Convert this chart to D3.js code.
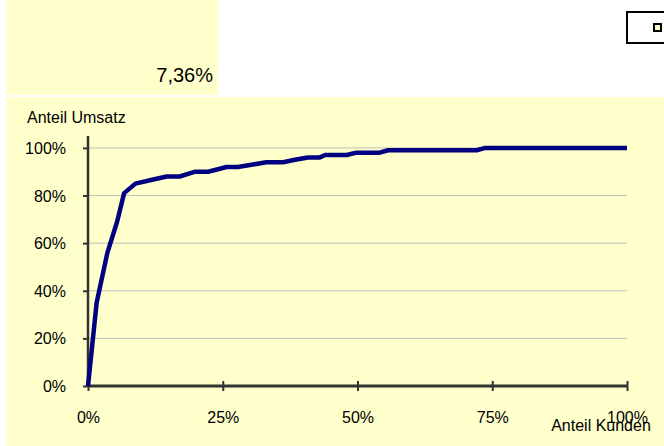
<!DOCTYPE html>
<html>
<head>
<meta charset="utf-8">
<script src="https://cdn.jsdelivr.net/npm/d3@7"></script>
<style>
  body { margin: 0; background: #fff; }
  svg text { font-family: "Liberation Sans", Arial, sans-serif; fill: #000; }
</style>
</head>
<body>
<svg id="chart"></svg>
<script>
const width = 664, height = 446;

// Lorenz-Kurve: Anteil Kunden (x) gegen Anteil Umsatz (y), in Prozent
const kundenAnteil = [0, 1.6, 3.6, 5.4, 6.7, 8.8, 11.7, 14.6, 17.0, 19.9, 22.3, 25.7, 27.8, 30.6, 33.1, 36.2, 38.4, 40.8, 43.0, 44.0, 48.0, 49.8, 54.1, 55.7, 72.1, 73.7, 100];
const umsatzAnteil = [0, 35, 56, 69, 81, 85, 86.5, 88, 88, 90, 90, 92, 92, 93, 94, 94, 95, 96, 96, 97, 97, 98, 98, 99, 99, 100, 100];

const xTicks = [0, 25, 50, 75, 100];
const yTicks = [0, 20, 40, 60, 80, 100];
const kennzahl = "7,36%";
const yTitle = "Anteil Umsatz", xTitle = "Anteil Kunden";

const colors = { panel: '#ffffcc', line: '#000080', axis: '#333333', grid: '#c0c0c0' };

const svg = d3.select("#chart").attr("width", width).attr("height", height);

// background panels
svg.append("rect").attr("x", 7).attr("y", 0).attr("width", 211).attr("height", 95).attr("fill", colors.panel);
svg.append("rect").attr("x", 7).attr("y", 97).attr("width", width - 7).attr("height", height - 97).attr("fill", colors.panel);

svg.append("text").attr("x", 213).attr("y", 82).attr("text-anchor", "end")
  .style("font-size", "20px").text(kennzahl);

// little box top right
svg.append("rect").attr("x", 627).attr("y", 12).attr("width", 50).attr("height", 31)
  .attr("fill", "#fff").attr("stroke", "#000").attr("stroke-width", 2);
svg.append("rect").attr("x", 654).attr("y", 24).attr("width", 7).attr("height", 7)
  .attr("fill", colors.panel).attr("stroke", "#000").attr("stroke-width", 2);

const x = d3.scaleLinear().domain([0, 100]).range([88, 627]);
const y = d3.scaleLinear().domain([0, 105]).range([386, 136]);

// gridlines
svg.append("g").selectAll("line").data(yTicks.filter(d => d > 0)).join("line")
  .attr("x1", x(0)).attr("x2", x(100))
  .attr("y1", d => y(d)).attr("y2", d => y(d))
  .attr("stroke", colors.grid).attr("stroke-width", 1);

// y axis
const yAxis = svg.append("g").attr("transform", `translate(${x(0)},0)`)
  .call(d3.axisLeft(y).tickValues(yTicks).tickFormat(d => d + "%").tickSize(5).tickPadding(17));
yAxis.select(".domain").attr("stroke", colors.axis).attr("stroke-width", 2.5).attr("d", `M0,${y(105)}V${y(0)}`);
yAxis.selectAll(".tick line").attr("stroke", colors.axis).attr("stroke-width", 2);
yAxis.selectAll(".tick text").style("font-size", "16px").attr("dy", "0.35em");

// x axis
const xAxis = svg.append("g").attr("transform", `translate(0,${y(0)})`)
  .call(d3.axisBottom(x).tickValues(xTicks).tickFormat(d => d + "%").tickSize(5));
xAxis.select(".domain").attr("stroke", colors.axis).attr("stroke-width", 3).attr("d", `M${x(0)},0H${x(100)}`);
xAxis.selectAll(".tick line").attr("stroke", colors.axis).attr("stroke-width", 2).attr("y1", -5).attr("y2", 5);
xAxis.selectAll(".tick text").style("font-size", "16px").attr("y", 37).attr("dy", 0);

// curve
const pts = kundenAnteil.map((k, i) => [k, umsatzAnteil[i]]);
svg.append("path").datum(pts)
  .attr("fill", "none").attr("stroke", colors.line).attr("stroke-width", 4.5)
  .attr("stroke-linejoin", "round")
  .attr("d", d3.line().x(d => x(d[0])).y(d => y(d[1])));

// axis titles
svg.append("text").attr("x", 27).attr("y", 123).style("font-size", "16px").text(yTitle);
svg.append("text").attr("x", 601).attr("y", 431).attr("text-anchor", "middle").style("font-size", "16px").text(xTitle);
</script>
</body>
</html>
